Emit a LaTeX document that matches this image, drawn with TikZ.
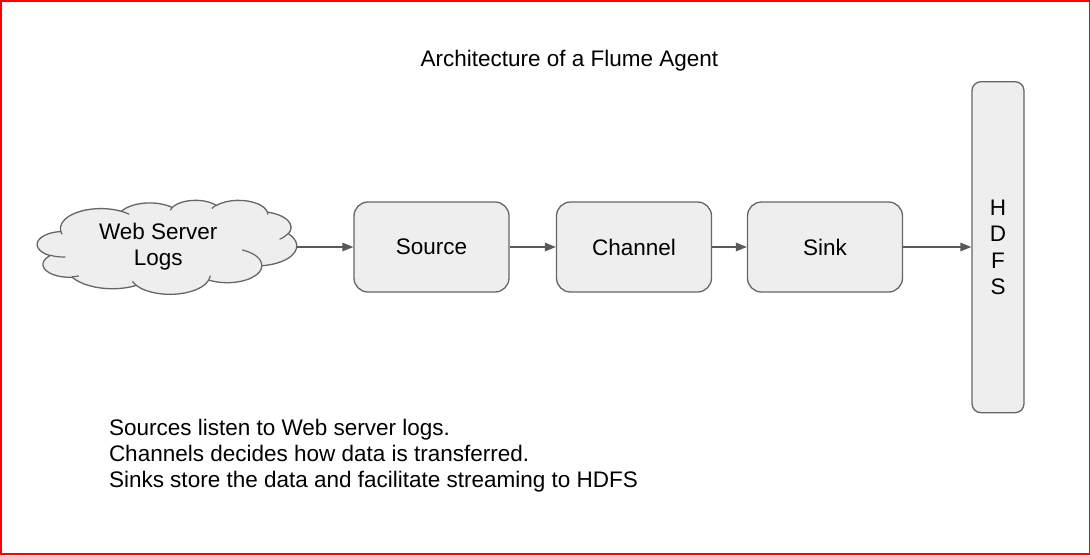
\documentclass[tikz,border=0pt]{standalone}
\usepackage{fontspec}
\setmainfont{Liberation Sans}
\usetikzlibrary{arrows.meta}
\definecolor{boxfill}{HTML}{EEEEEE}
\definecolor{boxdraw}{HTML}{666666}
\definecolor{arrowc}{HTML}{595959}
\newcommand\mkcarc[5]{%
  \pgfmathsetmacro\cts{atan2((#2)*sin(#4),(#3)*cos(#4))}%
  \pgfmathsetmacro\cte{atan2((#2)*sin(#4+#5),(#3)*cos(#4+#5))}%
  \pgfmathsetmacro\ctd{mod(\cte-\cts+720,360)}%
  \edef\ctmp{\noexpand\tikzset{#1/.style={start angle=\cts, delta angle=\ctd, x radius=#2, y radius=#3}}}%
  \ctmp}
% outer outline arcs
\mkcarc{co1}{67.53}{91.90}{-190.4875}{123.7805}
\mkcarc{co2}{53.33}{72.67}{-144.1024}{89.9452}
\mkcarc{co3}{43.65}{59.45}{-145.8079}{99.7230}
\mkcarc{co4}{48.57}{65.95}{-130.9861}{117.2417}
\mkcarc{co5}{53.33}{72.73}{-78.7089}{109.0269}
\mkcarc{co6}{67.75}{92.20}{-46.2673}{130.2690}
\mkcarc{co7}{57.85}{78.67}{0.6250}{114.0333}
\mkcarc{co8}{67.52}{92.15}{22.4516}{115.1726}
\mkcarc{co9}{77.20}{105.43}{66.2426}{75.7110}
\mkcarc{co10}{43.60}{59.18}{-274.9421}{146.7356}
\mkcarc{co11}{43.45}{59.45}{-246.8285}{152.5189}
% inner arcs
\mkcarc{ci1}{43.45}{59.45}{86.7420}{26.4295}
\mkcarc{ci2}{43.60}{59.18}{73.6105}{11.4475}
\mkcarc{ci3}{67.52}{92.15}{137.6242}{14.0811}
\mkcarc{ci4}{67.52}{92.15}{6.4533}{15.9984}
\mkcarc{ci5}{57.85}{78.67}{-70.2924}{70.9174}
\mkcarc{ci6}{53.33}{72.73}{30.3180}{27.7515}
\mkcarc{ci7}{48.57}{65.95}{-13.7443}{14.8589}
\mkcarc{ci8}{48.57}{65.95}{-149.1815}{18.1954}
\mkcarc{ci9}{43.65}{59.45}{-163.4943}{17.6864}
\mkcarc{ci10}{67.53}{91.90}{-66.7070}{12.3194}
\mkcarc{ci11}{67.53}{91.90}{157.6544}{11.8582}
\tikzset{
  stepbox/.style={draw=boxdraw, fill=boxfill, line width=1.3pt, rounded corners=14pt,
    minimum width=155pt, minimum height=90pt, inner sep=0pt,
    font=\fontsize{22.5}{26}\selectfont},
  hdfsbox/.style={draw=boxdraw, fill=boxfill, line width=1.3pt, rounded corners=9pt,
    minimum width=52pt, minimum height=331pt, inner sep=0pt, align=center,
    font=\fontsize{22.5}{26.4}\selectfont},
  flowarrow/.style={draw=arrowc, line width=1.3pt, -{Triangle[length=11pt,width=8.5pt]}},
  cloudfill/.style={fill=boxfill, draw=boxdraw, line width=1.3pt},
  cloudline/.style={draw=boxdraw, line width=1.2pt},
  plaintext/.style={inner sep=0pt, font=\fontsize{22.5}{26}\selectfont},
}
\begin{document}
\begin{tikzpicture}[x=1pt, y=-1pt]
\useasboundingbox (0,0) rectangle (1090,555);
\draw[red, line width=1.5pt] (0.75,0.75) rectangle (1089.25,553.9);

\node[plaintext, anchor=base] (title) at (569.4,66) {Architecture of a Flume Agent};

% cloud
\begin{scope}[shift={(37.3,200)}, x=0.6005pt, y=-0.2176pt]
\path[cloudfill] (39.00,143.70) arc[co1] arc[co2] arc[co3] arc[co4] arc[co5] arc[co6]
  arc[co7] arc[co8] arc[co9] arc[co10] arc[co11] -- cycle;
\path[cloudline] (46.93,261.77) arc[ci1] (69.28,348.99) arc[ci2]
  (164.78,390.90) arc[ci3] (288.27,347.51) arc[ci4] (341.29,229.54) arc[ci5]
  (417.98,153.54) arc[ci6] (383.24,54.26) arc[ci7] (290.78,39.52) arc[ci8]
  (221.41,47.20) arc[ci9] (140.00,51.92) arc[ci10] (41.27,157.89) arc[ci11];
\end{scope}
\coordinate (cloudE) at (296.7,247);
\node[plaintext, align=center] (weblogs) at (158.3,247) {Web Server\\Logs};

\node[stepbox] (src) at (431.5,247) {Source};
\node[stepbox] (chan) at (634,247) {Channel};
\node[stepbox] (sink) at (825,247) {Sink};
\node[hdfsbox] (hdfs) at (998,247.2) {H\\D\\F\\S};

\draw[flowarrow] (cloudE) -- (src.west);
\draw[flowarrow] (src.east) -- (chan.west);
\draw[flowarrow] (chan.east) -- (sink.west);
\draw[flowarrow] (sink.east) -- (sink.east -| hdfs.west);

\node[plaintext, anchor=base west] (note1) at (108.8,435) {Sources listen to Web server logs.};
\node[plaintext, anchor=base west] (note2) at (108.8,461) {Channels decides how data is transferred.};
\node[plaintext, anchor=base west] (note3) at (108.8,487) {Sinks store the data and facilitate streaming to HDFS};
\end{tikzpicture}
\end{document}
